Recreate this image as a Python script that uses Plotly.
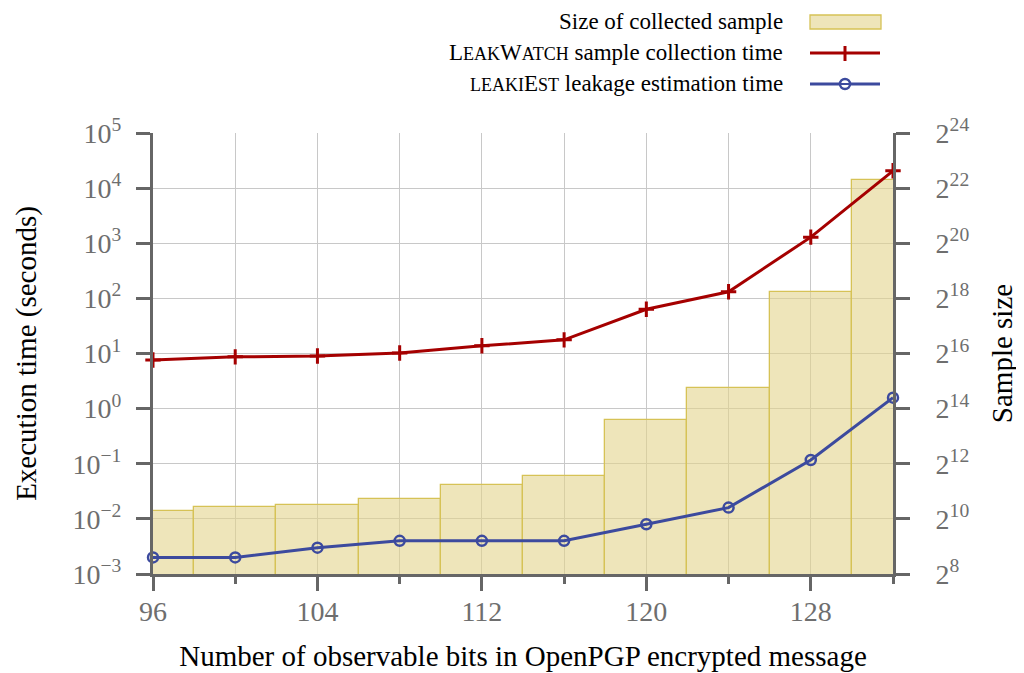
import plotly.graph_objects as go

# ---- data ----
bits = [96, 100, 104, 108, 112, 116, 120, 124, 128, 132]
sample_size = [1250, 1370, 1450, 1680, 2420, 3010, 12300, 27700, 310000, 5200000]
leakwatch_time = [7.6, 8.7, 9.0, 10.2, 13.8, 17.7, 63.5, 132, 1290, 20600]
leakiest_time = [0.002, 0.002, 0.003, 0.004, 0.004, 0.004, 0.008, 0.016, 0.117, 1.58]

left_tickvals = [1e-3, 1e-2, 1e-1, 1e0, 1e1, 1e2, 1e3, 1e4, 1e5]
left_ticktext = ["10<sup>−3</sup>", "10<sup>−2</sup>", "10<sup>−1</sup>", "10<sup>0</sup>",
                 "10<sup>1</sup>", "10<sup>2</sup>", "10<sup>3</sup>", "10<sup>4</sup>", "10<sup>5</sup>"]
right_exps = [8, 10, 12, 14, 16, 18, 20, 22, 24]
right_tickvals = [2 ** e for e in right_exps]
right_ticktext = [f"2<sup>{e}</sup>" for e in right_exps]

FONT = "Liberation Serif"
AXC = "#666666"
TICKC = "#6e6e6e"
RED = "#a50000"
BLUE = "#3c4a9e"
BAR_FILL = "rgba(226,212,140,0.6)"
BAR_LINE = "#d6c256"

fig = go.Figure()

fig.add_trace(go.Bar(
    x=bits, y=sample_size, width=4, yaxis="y",
    marker=dict(color=BAR_FILL, line=dict(color=BAR_LINE, width=1.3)),
    name="Size of collected sample", showlegend=False,
))
fig.add_trace(go.Scatter(
    x=bits, y=leakwatch_time, yaxis="y2", mode="lines+markers",
    line=dict(color=RED, width=3),
    marker=dict(symbol="cross-thin", size=11, line=dict(color=RED, width=3), color=RED),
    name="LeakWatch sample collection time", showlegend=False, cliponaxis=False,
))
fig.add_trace(go.Scatter(
    x=bits, y=leakiest_time, yaxis="y2", mode="lines+markers",
    line=dict(color=BLUE, width=3),
    marker=dict(symbol="circle-open", size=10, line=dict(color=BLUE, width=2.5), color=BLUE),
    name="leakiEst leakage estimation time", showlegend=False, cliponaxis=False,
))

TS = 28   # tick font size
TT = 29   # title font size
L2 = 0.301029995664
fig.update_layout(
    width=1024, height=673,
    margin=dict(l=145, r=139, t=125, b=107, autoexpand=False),
    paper_bgcolor="white", plot_bgcolor="white",
    font=dict(family=FONT, color="black", size=22),
    bargap=0,
    xaxis=dict(
        range=[96, 132], tickvals=[96, 104, 112, 120, 128], ticks="outside", ticklen=14,
        tickwidth=2.5, tickcolor=AXC, showline=True, linecolor=AXC, linewidth=3,
        showgrid=True, gridcolor="#c8c8c8", gridwidth=1, zeroline=False,
        tickfont=dict(size=TS, color=TICKC, family=FONT), ticklabelstandoff=-4,
        minor=dict(tickvals=[100, 108, 116, 124, 132], ticks="outside", ticklen=7,
                   tickwidth=2.5, tickcolor=AXC, showgrid=True, gridcolor="#c8c8c8", gridwidth=1),
        title=dict(text="Number of observable bits in OpenPGP encrypted message",
                   font=dict(size=TT, color="black"), standoff=21),
    ),
    yaxis=dict(
        type="log", side="right", range=[8 * L2, 24 * L2],
        tickvals=right_tickvals, ticktext=right_ticktext, ticks="outside", ticklen=14,
        tickwidth=2.5, tickcolor=AXC, showline=True, linecolor=AXC, linewidth=3,
        showgrid=True, gridcolor="#c8c8c8", gridwidth=1, zeroline=False,
        tickfont=dict(size=TS, color=TICKC, family=FONT), ticklabelstandoff=20,
        title=dict(text="Sample size", font=dict(size=TT, color="black"), standoff=24),
    ),
    yaxis2=dict(
        type="log", side="left", overlaying="y", range=[-3, 5],
        tickvals=left_tickvals, ticktext=left_ticktext, ticks="outside", ticklen=14,
        tickwidth=2.5, tickcolor=AXC, showline=True, linecolor=AXC, linewidth=3,
        showgrid=False, zeroline=False,
        tickfont=dict(size=TS, color=TICKC, family=FONT), ticklabelstandoff=9,
        title=dict(text="Execution time (seconds)", font=dict(size=TT, color="black"), standoff=28),
    ),
)

# ---- custom legend (text right-aligned, sample on the right) ----
W, H = 740.0, 441.0
def px(x):
    return (x - 153) / W
def py(y):
    return (574 - y) / H

sc = 'style="font-size:18px"'
legend_rows = [
    (22, "Size of collected sample"),
    (53, f"L<span {sc}>EAK</span>W<span {sc}>ATCH</span> sample collection time"),
    (84, f"<span {sc}>LEAKI</span>E<span {sc}>ST</span> leakage estimation time"),
]
for y, txt in legend_rows:
    fig.add_annotation(x=px(785), y=py(y), xref="paper", yref="paper", text=txt,
                       showarrow=False, xanchor="right", yanchor="middle",
                       font=dict(size=23, color="black", family=FONT))

fig.add_shape(type="rect", xref="paper", yref="paper", x0=px(810), x1=px(881),
              y0=py(29), y1=py(15), fillcolor=BAR_FILL, line=dict(color=BAR_LINE, width=1.3))
fig.add_shape(type="line", xref="paper", yref="paper", x0=px(810), x1=px(880),
              y0=py(53), y1=py(53), line=dict(color=RED, width=3))
fig.add_shape(type="line", xref="paper", yref="paper", x0=px(845), x1=px(845),
              y0=py(46), y1=py(61), line=dict(color=RED, width=3))
fig.add_shape(type="line", xref="paper", yref="paper", x0=px(810), x1=px(880),
              y0=py(84), y1=py(84), line=dict(color=BLUE, width=3))
fig.add_shape(type="circle", xref="paper", yref="paper", x0=px(840), x1=px(850),
              y0=py(89), y1=py(79), fillcolor="white", line=dict(color=BLUE, width=2.5))
fig.add_shape(type="line", xref="paper", yref="paper", x0=px(840), x1=px(850),
              y0=py(84), y1=py(84), line=dict(color=BLUE, width=2))

fig.write_html("out.html")
